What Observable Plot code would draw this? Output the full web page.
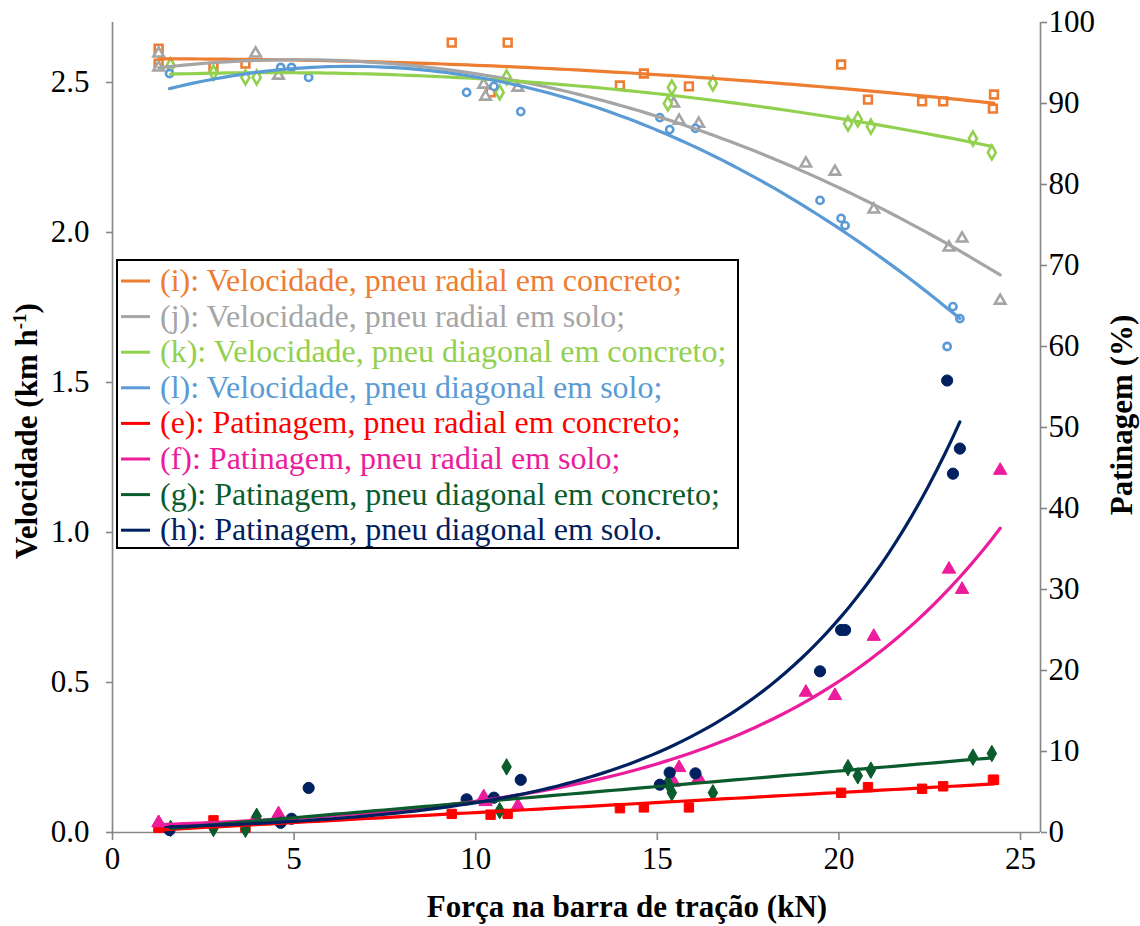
<!DOCTYPE html>
<html><head><meta charset="utf-8">
<script src="https://cdn.jsdelivr.net/npm/d3@7"></script>
<script src="https://cdn.jsdelivr.net/npm/@observablehq/plot@0.6"></script>
<style>
html,body{margin:0;padding:0;background:#fff;}
#chart{position:relative;width:1140px;height:926px;}
</style>
</head><body><div id="chart"></div>
<script>
// ---- Data ----
// Radial tyre on concrete: force (kN), speed (km/h), slip (%)
const xRadConc  = [1.27, 1.27, 2.78, 3.66, 9.34, 10.41, 10.88, 13.97, 14.63, 15.87, 20.06, 20.80, 22.29, 22.87, 24.27, 24.24];
const velRadConc = [2.613, 2.563, 2.553, 2.563, 2.633, 2.467, 2.633, 2.490, 2.530, 2.487, 2.560, 2.443, 2.437, 2.437, 2.460, 2.413];
const patRadConc = [0.6, 0.6, 1.5, 0.6, 2.3, 2.2, 2.3, 3.0, 3.1, 3.1, 4.9, 5.6, 5.4, 5.7, 6.5, 6.5];

// Radial tyre on soil
const xRadSolo  = [1.27, 1.27, 3.94, 4.57, 10.22, 10.27, 11.16, 15.45, 15.60, 16.14, 19.09, 19.89, 20.96, 23.03, 23.39, 24.44];
const velRadSolo = [2.597, 2.550, 2.597, 2.523, 2.493, 2.453, 2.483, 2.430, 2.373, 2.363, 2.230, 2.203, 2.077, 1.950, 1.980, 1.773];
const patRadSolo = [1.2, 1.2, 1.8, 2.3, 4.4, 3.8, 3.3, 6.2, 8.0, 6.7, 17.3, 16.9, 24.2, 32.5, 30.0, 44.7];

// Diagonal tyre on concrete
const xDiaConc  = [1.60, 2.78, 3.66, 3.97, 10.66, 10.85, 15.29, 15.40, 16.53, 20.25, 20.52, 20.88, 23.69, 24.21];
const velDiaConc = [2.557, 2.533, 2.517, 2.517, 2.467, 2.517, 2.430, 2.483, 2.497, 2.363, 2.377, 2.353, 2.313, 2.267];
const patDiaConc = [0.5, 0.5, 0.4, 2.0, 2.7, 8.1, 6.1, 4.9, 4.9, 8.0, 7.0, 7.7, 9.3, 9.75];

// Diagonal tyre on soil
const xDiaSolo  = [1.57, 4.63, 4.93, 5.40, 9.75, 10.50, 11.24, 15.07, 15.34, 16.05, 19.48, 20.06, 20.17, 22.98, 23.14, 23.33];
const velDiaSolo = [2.530, 2.550, 2.550, 2.517, 2.467, 2.487, 2.403, 2.383, 2.343, 2.347, 2.107, 2.047, 2.023, 1.620, 1.753, 1.713];
const patDiaSolo = [0.3, 1.2, 1.7, 5.5, 4.1, 4.3, 6.5, 5.9, 7.4, 7.3, 19.9, 25.0, 25.0, 55.8, 44.3, 47.4];

const xTicks = [0, 5, 10, 15, 20, 25];
const yLeftTicks = [0, 0.5, 1.0, 1.5, 2.0, 2.5];
const yRightTicks = [0, 10, 20, 30, 40, 50, 60, 70, 80, 90, 100];

const legendLabels = [
  "(i): Velocidade, pneu radial em concreto;",
  "(j): Velocidade, pneu radial em solo;",
  "(k): Velocidade, pneu diagonal em concreto;",
  "(l): Velocidade, pneu diagonal em solo;",
  "(e): Patinagem, pneu radial em concreto;",
  "(f): Patinagem, pneu radial em solo;",
  "(g): Patinagem, pneu diagonal em concreto;",
  "(h): Patinagem, pneu diagonal em solo."
];
const colors = {
  i: "#ED7D31", j: "#A5A5A5", k: "#92D050", l: "#5B9BD5",
  e: "#FF0000", f: "#EC1C9C", g: "#0A5C2C", h: "#002060"
};

// ---- helpers ----
const Y_MAX = 2.7, P_MAX = 100, K = Y_MAX / P_MAX; // right-axis % mapped onto left scale
const X_MAX = 25.55;

function polyfit(xs, ys, deg, ws) {
  const n = deg + 1;
  const A = Array.from({length: n}, () => new Array(n + 1).fill(0));
  for (let i = 0; i < xs.length; i++) {
    const w = ws ? ws[i] : 1;
    for (let r = 0; r < n; r++) {
      for (let c = 0; c < n; c++) A[r][c] += w * Math.pow(xs[i], r + c);
      A[r][n] += w * ys[i] * Math.pow(xs[i], r);
    }
  }
  for (let p = 0; p < n; p++) {
    let m = p;
    for (let r = p + 1; r < n; r++) if (Math.abs(A[r][p]) > Math.abs(A[m][p])) m = r;
    [A[p], A[m]] = [A[m], A[p]];
    for (let r = 0; r < n; r++) {
      if (r === p) continue;
      const f = A[r][p] / A[p][p];
      for (let c = p; c <= n; c++) A[r][c] -= f * A[p][c];
    }
  }
  const coef = A.map((row, i) => row[n] / row[i]);
  return x => coef.reduce((s, a, i) => s + a * Math.pow(x, i), 0);
}
// exponential trend y = a·e^(bx), least squares on ln y weighted by y^p
function expfit(xs, ys, p) {
  const f = polyfit(xs, ys.map(Math.log), 1, ys.map(y => Math.pow(y, p)));
  return x => Math.exp(f(x));
}
function curve(xs, fn, scale) {
  const lo = d3.min(xs), hi = d3.max(xs);
  return d3.range(0, 101).map(i => {
    const x = lo + (hi - lo) * i / 100;
    return {x, y: fn(x) * scale};
  });
}
function pts(xs, ys, scale) { return xs.map((x, i) => ({x, y: ys[i] * scale})); }

const series = [
  {key: "i", xs: xRadConc, ys: velRadConc, s: 1, fit: polyfit(xRadConc, velRadConc, 2), sym: "square", fill: false, r: 4.4},
  {key: "j", xs: xRadSolo, ys: velRadSolo, s: 1, fit: polyfit(xRadSolo, velRadSolo, 2), sym: "triangle", fill: false, r: 3.9},
  {key: "k", xs: xDiaConc, ys: velDiaConc, s: 1, fit: polyfit(xDiaConc, velDiaConc, 2), sym: "diamond", fill: false, r: 4.2},
  {key: "l", xs: xDiaSolo, ys: velDiaSolo, s: 1, fit: polyfit(xDiaSolo, velDiaSolo, 2), sym: "circle", fill: false, r: 3.6},
  {key: "e", xs: xRadConc, ys: patRadConc, s: K, fit: polyfit(xRadConc, patRadConc, 1), sym: "square", fill: true, r: 5.3},
  {key: "f", xs: xRadSolo, ys: patRadSolo, s: K, fit: expfit(xRadSolo, patRadSolo, 0.5), sym: "triangle", fill: true, r: 5.0},
  {key: "g", xs: xDiaConc, ys: patDiaConc, s: K, fit: polyfit(xDiaConc, patDiaConc, 1), sym: "diamond", fill: true, r: 5.0},
  {key: "h", xs: xDiaSolo, ys: patDiaSolo, s: K, fit: expfit(xDiaSolo, patDiaSolo, 2), sym: "circle", fill: true, r: 5.6}
];

const marks = [];
for (const se of series) {
  const c = colors[se.key];
  marks.push(Plot.dot(pts(se.xs, se.ys, se.s), {
    x: "x", y: "y", symbol: se.sym, r: se.r,
    fill: se.fill ? c : "white", stroke: c, strokeWidth: se.fill ? 1 : 2.6
  }));
}
for (const se of series) {
  marks.push(Plot.line(curve(se.xs, se.fit, se.s), {
    x: "x", y: "y", stroke: colors[se.key], strokeWidth: 3.2, curve: "linear"
  }));
}

const axisColor = "#868686";
const serif = "'Liberation Serif', 'Times New Roman', serif";
const chart = Plot.plot({
  width: 1140, height: 926,
  marginLeft: 112, marginRight: 100, marginTop: 22, marginBottom: 94,
  style: {fontFamily: serif, fontSize: "31px", color: "#000", background: "#fff"},
  x: {domain: [0, X_MAX]},
  y: {domain: [0, Y_MAX]},
  marks: [
    Plot.ruleX([0], {stroke: axisColor, strokeWidth: 1.6}),
    Plot.ruleX([X_MAX], {stroke: axisColor, strokeWidth: 1.6}),
    Plot.ruleY([0], {stroke: axisColor, strokeWidth: 1.6}),
    Plot.axisX(xTicks, {tickSize: 8, tickPadding: 6, stroke: axisColor, strokeWidth: 1.6, fontSize: 31, fill: "#000", label: null}),
    Plot.axisY(yLeftTicks, {anchor: "left", tickSize: 6, tickPadding: 17, stroke: axisColor, strokeWidth: 1.6, fontSize: 31, fill: "#000", tickFormat: d3.format(".1f"), label: null}),
    Plot.axisY(yRightTicks.map(v => v * K), {anchor: "right", tickSize: 6, tickPadding: 2, stroke: axisColor, strokeWidth: 1.6, fontSize: 31, fill: "#000", tickFormat: v => String(Math.round(v / K)), label: null}),
    ...marks
  ]
});
document.getElementById("chart").appendChild(chart);

// ---- axis titles and legend drawn into the same SVG ----
const svg = d3.select(chart);

svg.append("text").attr("x", 627).attr("y", 917).attr("text-anchor", "middle")
  .attr("font-family", serif).attr("font-size", 31).attr("font-weight", "bold").attr("fill", "#000")
  .text("Força na barra de tração (kN)");

const yt = svg.append("text").attr("transform", "translate(37,431) rotate(-90)").attr("text-anchor", "middle")
  .attr("font-family", serif).attr("font-size", 31).attr("font-weight", "bold").attr("fill", "#000");
yt.append("tspan").text("Velocidade (km h");
yt.append("tspan").attr("font-size", 19).attr("dy", -11).text("-1");
yt.append("tspan").attr("dy", 11).text(")");

svg.append("text").attr("transform", "translate(1132,415) rotate(-90)").attr("text-anchor", "middle")
  .attr("font-family", serif).attr("font-size", 31).attr("font-weight", "bold").attr("fill", "#000")
  .text("Patinagem (%)");

const lg = svg.append("g");
lg.append("rect").attr("x", 117).attr("y", 260).attr("width", 621).attr("height", 288)
  .attr("fill", "#fff").attr("stroke", "#000").attr("stroke-width", 2);
const keys = ["i", "j", "k", "l", "e", "f", "g", "h"];
legendLabels.forEach((t, i) => {
  const cy = 281 + i * 35.6;
  lg.append("line").attr("x1", 121).attr("x2", 150).attr("y1", cy).attr("y2", cy)
    .attr("stroke", colors[keys[i]]).attr("stroke-width", 3);
  lg.append("text").attr("x", 160).attr("y", cy + 10).attr("text-anchor", "start")
    .attr("font-family", serif).attr("font-size", 32)
    .attr("fill", colors[keys[i]]).text(t);
});
</script>
</body></html>
